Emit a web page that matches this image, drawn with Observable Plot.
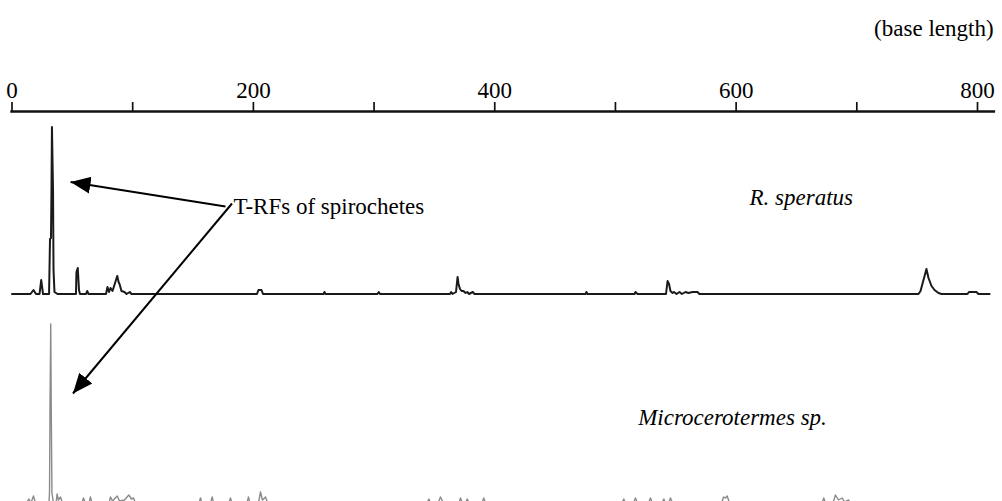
<!DOCTYPE html>
<html><head><meta charset="utf-8">
<script src="https://cdn.jsdelivr.net/npm/d3@7"></script>
<script src="https://cdn.jsdelivr.net/npm/@observablehq/plot@0.6"></script>
<style>html,body{margin:0;padding:0;background:#fff;overflow:hidden}
svg text{font-family:'Liberation Serif','Times New Roman',Times,serif}</style>
</head><body><div id="chart"></div>
<script>
// ---- data (base length, signal above baseline) ----
const xTicks = [0, 100, 200, 300, 400, 500, 600, 700, 800];
const xTickLabels = ["0", "", "200", "", "400", "", "600", "", "800"];
const traceNames = ["R. speratus", "Microcerotermes sp."];
const annotationText = "T-RFs of spirochetes";
const unitText = "(base length)";

const speratusTrace = [
  [0,0],[15.3,0],[17.8,4],[19.9,0],[22.8,0],[24.2,14],[25.7,0],
  [30.7,0],[31.5,55],[32.3,56],[32.7,103],[33.1,167],[34.0,103],[34.4,24],[35.2,2],[36.5,1],[37.7,0],
  [53.0,0],[53.4,22],[54.5,26],[55.5,4],[56.3,0],
  [61.3,0],[62.3,3],[63.4,0],
  [77.9,0],[79.1,7],[80.4,2],[81.6,6],[83.3,3],[87.2,18],[88.3,12],[89.1,10],[90.7,3],[93.2,2],[94.9,0],[97.6,2],[99.0,0],
  [203.0,0],[204.2,4],[206.7,4],[208.0,0],
  [258.1,0],[258.9,2],[259.8,0],
  [302.8,0],[303.9,2],[304.9,0],
  [362.9,0],[363.9,2],[365.0,0],[367.9,2],[369.2,17],[370.0,10],[371.2,5],[372.5,3],[374.1,3],[375.8,1],[377.2,2],[378.7,0],[381.8,2],[383.2,0],
  [475.2,0],[476.0,2],[476.9,0],
  [515.8,0],[516.6,2],[518.3,0],
  [541.9,0],[543.2,13],[544.4,10],[545.6,3],[547.3,1],[548.5,2],[550.6,0],[553.1,2],[555.1,0],[558.0,2],[560.5,1],[563.9,2],[568.0,2],[569.6,0],
  [751.1,0],[752.8,3],[754.8,12],[757.7,25],[759.4,16],[761.9,8],[764.4,4],[767.7,1],[770.2,0],
  [791.7,0],[792.9,2],[799.1,2],[800.8,0],[810.0,0]
];

const microTrace = [
  [0,0],[12.0,0],[14.0,4],[15.7,0],[17.8,7],[19.5,0],
  [30.7,0],[31.1,12],[31.5,97],[32.1,179],[32.5,97],[33.1,10],[34.4,0],
  [36.5,0],[37.4,9],[38.5,3],[40.2,6],[41.8,0],
  [58.0,0],[59.2,5],[60.9,0],
  [63.8,0],[65.0,6],[66.3,0],
  [80.4,0],[81.6,6],[83.3,2],[87.2,7],[89.1,2],[93.2,3],[96.8,8],[99.0,4],[100.7,5],[102.3,0],
  [154.9,0],[156.2,5],[157.4,0],
  [164.5,0],[165.9,6],[167.0,0],
  [179.8,0],[181.0,5],[182.3,0],
  [194.7,0],[195.9,6],[197.2,0],
  [204.2,0],[205.9,11],[207.5,3],[210.1,6],[211.7,0],
  [343.9,0],[345.4,4],[346.8,0],
  [353.0,0],[355.0,6],[356.7,2],[358.4,0],
  [370.4,0],[371.6,5],[373.3,0],
  [375.8,0],[377.2,4],[378.7,0],
  [389.4,0],[390.9,5],[392.3,0],
  [505.4,0],[506.9,4],[508.3,0],
  [514.9,0],[516.6,5],[518.3,0],
  [527.4,0],[529.0,5],[530.7,0],
  [538.6,0],[540.1,4],[541.5,0],
  [544.0,0],[545.6,5],[547.3,0],
  [587.9,0],[589.6,6],[591.2,5],[592.6,7],[594.5,0],
  [671.1,0],[672.6,5],[674.1,0],
  [680.3,0],[682.3,8],[684.8,3],[687.9,5],[689.8,1],[693.1,3],[694.8,0],
  [810.0,0]
];

// ---- layout (stacking of the two electropherograms, annotation anchors) ----
const Y_TOP = 390;
const baselines = [207.5, -1.5];
const toRows = (trace, i) => trace.map(([b, s]) => ({series: traceNames[i], base: b, y: s + baselines[i]}));
const speratusRows = toRows(speratusTrace, 0);
const microRows = toRows(microTrace, 1);
const nameLabels = [
  {text: traceNames[0], base: 654, y: 304},
  {text: traceNames[1], base: 597, y: 84}
];
const arrows = [
  {x1: 176.9, y1: 295, x2: 48.5, y2: 319.5},
  {x1: 182.3, y1: 298, x2: 50.5, y2: 108}
];
const serif = "'Liberation Serif', 'Times New Roman', Times, serif";

const svg = Plot.plot({
  width: 1002,
  height: 501,
  marginLeft: 11.5,
  marginRight: 25,
  marginTop: 111,
  marginBottom: 0,
  style: {fontFamily: serif, fontSize: "23px", background: "#fff", color: "#000"},
  x: {domain: [0, 800]},
  y: {domain: [0, Y_TOP], axis: null},
  marks: [
    Plot.ruleY([Y_TOP], {x1: -1, x2: 815, stroke: "#111", strokeWidth: 2.4}),
    Plot.axisX({anchor: "top", ticks: xTicks, tickFormat: d => xTickLabels[xTicks.indexOf(d)],
      tickSize: 10, tickPadding: 4, fontSize: 23, fontFamily: serif, fill: "#000",
      stroke: "#111", strokeWidth: 1.7, label: null}),
    Plot.line(microRows, {x: "base", y: "y", stroke: "#8a8a8a", strokeWidth: 1.4}),
    Plot.line(speratusRows, {x: "base", y: "y", stroke: "#1a1a1a", strokeWidth: 2}),
    Plot.link(arrows, {x1: "x1", y1: "y1", x2: "x2", y2: "y2", stroke: "#000", strokeWidth: 2}),
    Plot.text([annotationText], {x: 183.5, y: 295, text: d => d, textAnchor: "start", fontSize: 23, fontFamily: serif, fill: "#000"}),
    Plot.text(nameLabels, {x: "base", y: "y", text: "text", fontSize: 23, fontFamily: serif, fontStyle: "italic", fill: "#000"}),
    Plot.text([unitText], {x: 813.3, y: 473, text: d => d, textAnchor: "end", fontSize: 23, fontFamily: serif, fill: "#000"})
  ]
});

// filled arrowheads for the annotation links
const s = d3.select(svg);
const defs = s.insert("defs", ":first-child");
defs.append("marker")
  .attr("id", "ahead")
  .attr("markerUnits", "userSpaceOnUse")
  .attr("viewBox", "0 -10 20 20")
  .attr("markerWidth", 20).attr("markerHeight", 20)
  .attr("refX", 20).attr("refY", 0)
  .attr("orient", "auto")
  .append("path").attr("d", "M0,-8.5L20,0L0,8.5Z").attr("fill", "#000");
s.selectAll("g[aria-label='link'] path").attr("marker-end", "url(#ahead)");

document.getElementById("chart").appendChild(svg);
</script>
</body></html>
